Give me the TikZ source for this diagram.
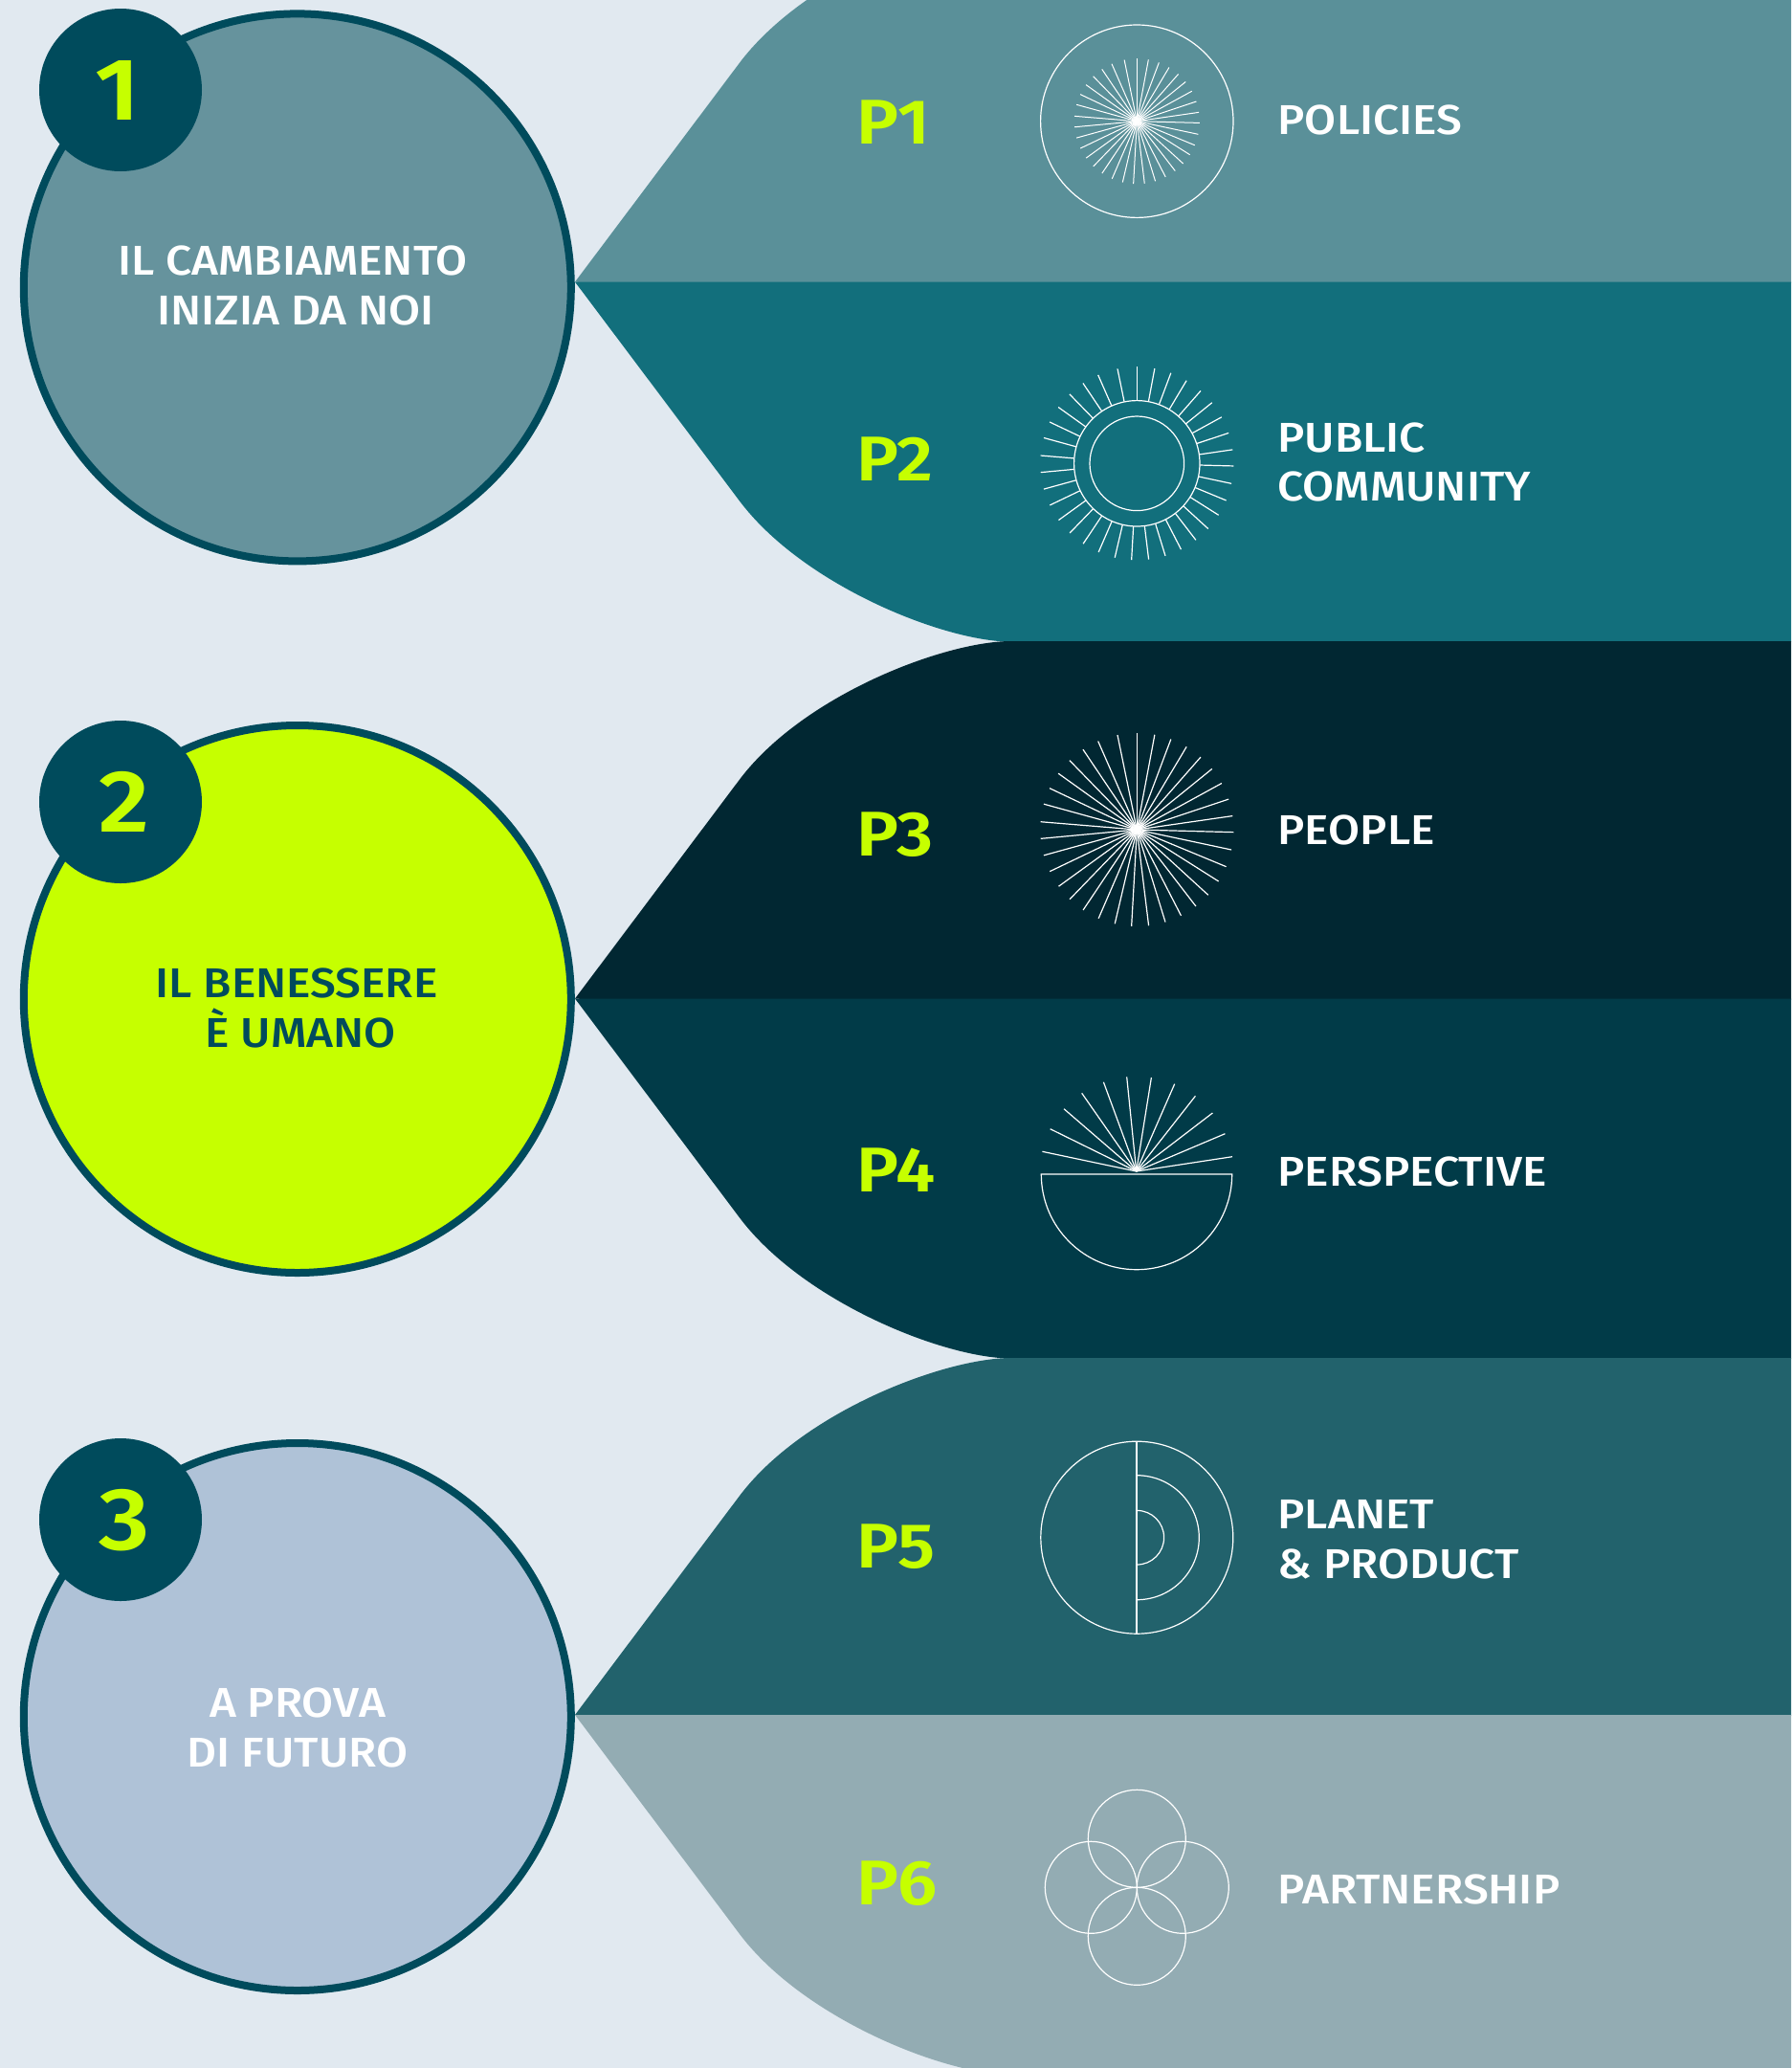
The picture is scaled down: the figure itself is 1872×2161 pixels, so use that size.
\documentclass[tikz,border=0pt]{standalone}
\usepackage{fontspec}
\setmainfont{Fira Sans Medium}[FakeStretch=1.1]
\newfontfamily\plab{Fira Sans SemiBold}[FakeStretch=1.12]
\definecolor{bgc}{HTML}{E1E9F0}
\definecolor{bone}{HTML}{5A9099}
\definecolor{btwo}{HTML}{126F7C}
\definecolor{bthree}{HTML}{012732}
\definecolor{bfour}{HTML}{013B48}
\definecolor{bfive}{HTML}{22626C}
\definecolor{bsix}{HTML}{93ACB3}
\definecolor{cone}{HTML}{66939D}
\definecolor{limec}{HTML}{C6FF00}
\definecolor{darkc}{HTML}{004B5C}
\definecolor{cthree}{HTML}{AFC2D7}
\tikzset{
  x=1pt,y=-1pt,
  bigcirc/.style={circle,draw=darkc,line width=8pt,minimum size=572pt,inner sep=0pt},
  badge/.style={circle,fill=darkc,minimum size=170pt,inner sep=0pt},
  numtxt/.style={anchor=base,inner sep=0pt,text=limec,font=\plab\fontsize{92}{92}\selectfont},
  ctxt/.style={anchor=south,align=center,inner sep=0pt,font=\fontsize{43.5}{51.7}\selectfont},
  ptxt/.style={anchor=base west,inner sep=0pt,text=limec,font=\plab\fontsize{66}{66}\selectfont},
  ltxt/.style={anchor=south west,align=left,inner sep=0pt,text=white,font=\fontsize{43.5}{51.7}\selectfont},
  icon/.style={draw=white,line width=1.2pt}
}
\newcommand{\bandup}[3]{\fill[#1] (601,#2) -- (772,#2-227.6) .. controls (838,#2-316.6) and (987,#2-#3) .. (1057,#2-#3) -- (1872,#2-#3) -- (1872,#2+1) -- (620,#2+1) -- cycle;}
\newcommand{\banddn}[3]{\fill[#1] (601,#2) -- (772,#2+227.6) .. controls (838,#2+316.6) and (987,#2+#3) .. (1057,#2+#3) -- (1872,#2+#3) -- (1872,#2) -- cycle;}
\def\raylist{90,79.4,69.4,59.1,48.7,39,28.7,18.4,8.2,-1.5,-12,-22.5,-32.3,-42.5,-52.4,-62.8,-72.9,-83,-93.2,-103.2,-113.4,-123.8,-134,-144.1,-154.4,-164.6,-174.7,175.3,164.6,154.6,144.4,134.2,123.9,113.7,101.6}
\begin{document}
\begin{tikzpicture}
\clip (0,0) rectangle (1872,2161);
\fill[bgc] (0,0) rectangle (1872,2161);
% bands
\bandup{bone}{294.6}{376}
\banddn{btwo}{294.6}{376}
\bandup{bthree}{1043.5}{373.5}
\banddn{bfour}{1043.5}{376}
\bandup{bfive}{1792}{373}
\banddn{bsix}{1792}{376}
% circles
\node[bigcirc,fill=cone] (c1) at (310.8,300.4) {};
\node[bigcirc,fill=limec] (c2) at (310.8,1044) {};
\node[bigcirc,fill=cthree] (c3) at (310.8,1794) {};
\node[badge] (b1) at (126,94) {};
\node[badge] (b2) at (126,838) {};
\node[badge] (b3) at (126,1588) {};
\node[numtxt] (n1) at (122.5,125.5) {1};
\node[numtxt] (n2) at (129.5,869.5) {2};
\node[numtxt] (n3) at (130.5,1619.5) {3};
\node[ctxt,text=white] (t1) at (309,340) {IL CAMBIAMENTO\kern6pt\\INIZIA DA NOI};
\node[ctxt,text=darkc] (t2) at (312,1095.5) {IL BENESSERE\kern4pt\\\kern4pt È UMANO};
\node[ctxt,text=white] (t3) at (311,1847) {A PROVA\\DI FUTURO};
% P labels
\node[ptxt] (p1) at (895,150.4) {P1};
\node[ptxt] (p2) at (895,502) {P2};
\node[ptxt] (p3) at (895,894) {P3};
\node[ptxt] (p4) at (895,1245) {P4};
\node[ptxt] (p5) at (895,1638) {P5};
\node[ptxt] (p6) at (895,1990.7) {P6};
% right labels
\node[ltxt] (l1) at (1335.5,141) {POLICIES};
\node[ltxt] (l2) at (1335.5,524.6) {PUBLIC\\COMMUNITY};
\node[ltxt] (l3) at (1335.5,883) {PEOPLE};
\node[ltxt] (l4) at (1335.5,1240) {PERSPECTIVE};
\node[ltxt] (l5) at (1335.5,1650) {PLANET\\\& PRODUCT};
\node[ltxt] (l6) at (1335.5,1990) {PARTNERSHIP};
% icon 1
\coordinate (i1) at (1188.3,126.7);
\draw[icon] (i1) circle[radius=100.7];
\foreach \a in \raylist {\draw[icon,line width=1pt] (i1) -- +({65.5*cos(\a)},{-65.5*sin(\a)});}
% icon 2
\coordinate (i2) at (1188.3,484.3);
\draw[icon] (i2) circle[radius=49.3];
\draw[icon] (i2) circle[radius=65.7];
\foreach \a in \raylist {\draw[icon] (i2) ++({66*cos(\a)},{-66*sin(\a)}) -- +({35*cos(\a)},{-35*sin(\a)});}
% icon 3
\coordinate (i3) at (1188.3,867);
\foreach \a in \raylist {\draw[icon] (i3) -- +({101*cos(\a)},{-101*sin(\a)});}
% icon 4
\coordinate (i4) at (1187.7,1224);
\foreach \dx/\dy in {-98.3/-20.7,-90/-44.3,-75.7/-65.3,-57/-81.7,-34.3/-93.3,-10/-98.7,15.7/-98,40/-91.3,61.7/-78.7,79.7/-61,92.7/-39.3,100.3/-15.3}
  {\draw[icon] (i4) -- +(\dx,\dy);}
\draw[icon] (1088.3,1227) -- (1287.7,1227) arc[start angle=0,end angle=180,radius=99.7] -- cycle;
% icon 5
\coordinate (i5) at (1188.3,1606.7);
\draw[icon] (i5) circle[radius=100.5];
\draw[icon,line width=2pt] (1188.3,1506.2) -- (1188.3,1707.2);
\draw[icon] (1188.3,1541.7) arc[start angle=-90,end angle=90,radius=65];
\draw[icon] (1188.3,1578.4) arc[start angle=-90,end angle=90,radius=28.3];
% icon 6
\coordinate (i6) at (1188.3,1972.3);
\draw[icon] (1188.3,1921.3) circle[radius=51];
\draw[icon] (1188.3,2023.3) circle[radius=51];
\draw[icon] (1140.3,1972.3) circle[radius=48];
\draw[icon] (1236.3,1972.3) circle[radius=48];
\end{tikzpicture}
\end{document}
